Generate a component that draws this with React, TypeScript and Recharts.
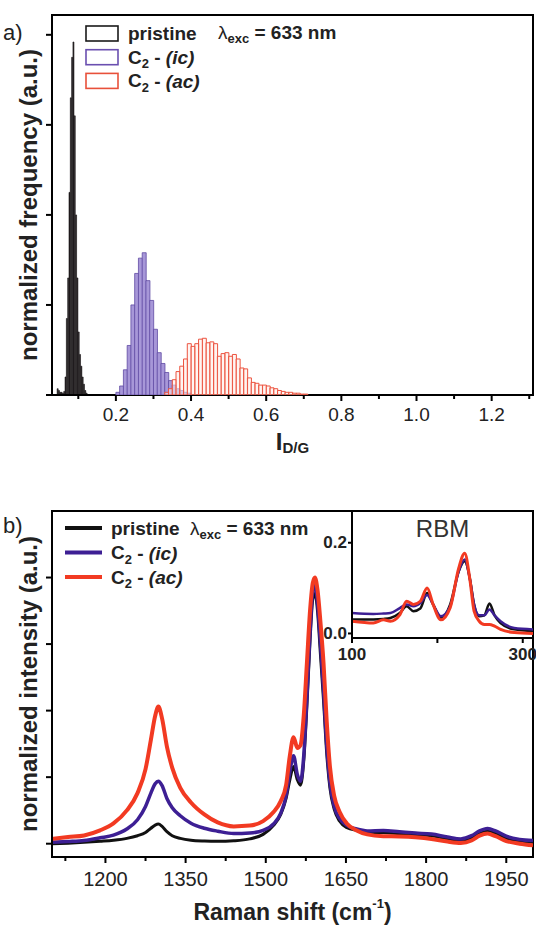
import React from 'react';
import { BarChart, Bar, LineChart, Line, XAxis, YAxis, ReferenceArea, Legend } from 'recharts';

const FONT = '"Liberation Sans", Arial, Helvetica, sans-serif';
const INK = '#222';

// ---- a) I_D/G histograms (bin centre, normalized frequency)
const PRISTINE_BIN = [0.0455, 0.049, 0.0525, 0.056, 0.0595, 0.063, 0.0665, 0.07, 0.0735, 0.077, 0.0805, 0.084, 0.0875, 0.091, 0.0945, 0.098, 0.1015, 0.105, 0.1085, 0.112, 0.1155, 0.119, 0.1225];
const PRISTINE_FREQ = [0.07, 0.05, 0.03, 0.03, 0.02, 0.04, 0.2, 0.85, 1.3, 2.25, 3.3, 3.75, 3.92, 3.1, 2.0, 1.3, 0.7, 0.45, 0.32, 0.2, 0.12, 0.05, 0.02];
const IC_BIN = [0.205, 0.215, 0.225, 0.235, 0.245, 0.255, 0.265, 0.275, 0.285, 0.295, 0.305, 0.315, 0.325, 0.335, 0.345, 0.355, 0.365, 0.375, 0.385, 0.395];
const IC_FREQ = [0.03, 0.1, 0.28, 0.55, 1.0, 1.35, 1.52, 1.58, 1.27, 1.05, 0.73, 0.47, 0.35, 0.25, 0.16, 0.11, 0.07, 0.05, 0.03, 0.02];
const AC_BIN = [0.335, 0.345, 0.355, 0.365, 0.375, 0.385, 0.395, 0.405, 0.415, 0.425, 0.435, 0.445, 0.455, 0.465, 0.475, 0.485, 0.495, 0.505, 0.515, 0.525, 0.535, 0.545, 0.555, 0.565, 0.575, 0.585, 0.595, 0.605, 0.615, 0.625, 0.635, 0.645, 0.655, 0.665, 0.675, 0.685, 0.695, 0.705];
const AC_FREQ = [0.03, 0.07, 0.17, 0.26, 0.32, 0.4, 0.57, 0.54, 0.57, 0.62, 0.63, 0.58, 0.59, 0.57, 0.43, 0.46, 0.47, 0.43, 0.45, 0.4, 0.3, 0.29, 0.19, 0.14, 0.13, 0.11, 0.11, 0.1, 0.08, 0.07, 0.05, 0.04, 0.03, 0.03, 0.02, 0.02, 0.01, 0.01];
const A_MAJOR = [0.2, 0.4, 0.6, 0.8, 1.0, 1.2];
const A_MINOR = [0.1, 0.3, 0.5, 0.7, 0.9, 1.1, 1.3];
const A_YTICKS = [0, 1, 2, 3, 4];
const A_XDOM: [number, number] = [0.03, 1.31];
const A_YDOM: [number, number] = [0, 4.22];

// ---- b) Raman spectra, normalized to the G band
const SHIFT = [1100, 1130, 1160, 1190, 1215, 1240, 1260, 1275, 1285, 1293, 1299, 1306, 1315, 1325, 1340, 1360, 1385, 1410, 1440, 1470, 1495, 1515, 1528, 1538, 1545, 1552, 1559, 1565, 1571, 1577, 1583, 1588, 1592, 1597, 1602, 1608, 1614, 1620, 1628, 1638, 1652, 1670, 1690, 1720, 1750, 1780, 1810, 1840, 1865, 1885, 1900, 1915, 1930, 1950, 1975, 2000];
const PRISTINE_INT = [0.0, 0.002, 0.005, 0.009, 0.013, 0.02, 0.03, 0.042, 0.058, 0.07, 0.074, 0.065, 0.045, 0.03, 0.02, 0.013, 0.01, 0.009, 0.011, 0.018, 0.035, 0.07, 0.11, 0.17, 0.24, 0.29, 0.24, 0.22, 0.31, 0.52, 0.77, 0.92, 0.94, 0.87, 0.72, 0.54, 0.34, 0.21, 0.13, 0.085, 0.06, 0.05, 0.043, 0.042, 0.038, 0.034, 0.03, 0.018, 0.012, 0.022, 0.038, 0.047, 0.038, 0.02, 0.01, 0.005];
const IC_INT = [0.005, 0.008, 0.012, 0.022, 0.032, 0.055, 0.09, 0.14, 0.19, 0.225, 0.235, 0.218, 0.17, 0.135, 0.105, 0.077, 0.058, 0.047, 0.038, 0.04, 0.05, 0.075, 0.115, 0.18, 0.27, 0.33, 0.26, 0.235, 0.33, 0.55, 0.8, 0.95, 0.97, 0.9, 0.76, 0.58, 0.37, 0.23, 0.14, 0.095, 0.068, 0.055, 0.048, 0.05, 0.045, 0.04, 0.036, 0.025, 0.018, 0.03, 0.048, 0.057, 0.048, 0.028, 0.016, 0.012];
const AC_INT = [0.018, 0.025, 0.031, 0.05, 0.076, 0.125, 0.19, 0.28, 0.39, 0.48, 0.515, 0.47, 0.365, 0.285, 0.21, 0.155, 0.11, 0.08, 0.065, 0.068, 0.085, 0.12, 0.16, 0.22, 0.33, 0.4, 0.36, 0.37, 0.48, 0.68, 0.88, 0.98, 1.0, 0.95, 0.84, 0.68, 0.46, 0.29, 0.18, 0.12, 0.075, 0.05, 0.035, 0.028, 0.027, 0.024, 0.018, 0.008, 0.003, 0.012, 0.03, 0.038, 0.028, 0.01, 0.0, -0.006];
const B_MAJOR = [1200, 1350, 1500, 1650, 1800, 1950];
const B_MINOR = [1125, 1275, 1425, 1575, 1725, 1875];
const B_YTICKS = [0, 0.25, 0.5, 0.75, 1];
const B_XDOM: [number, number] = [1100, 2000];
const B_YDOM: [number, number] = [-0.05, 1.25];

// ---- inset: RBM region
const RBM_SHIFT = [100, 125, 137, 145, 156, 164, 172, 180, 188, 195, 204, 215, 225, 232, 238, 243, 249, 255, 261, 267, 274, 290, 312];
const RBM_PRISTINE = [0.031, 0.031, 0.032, 0.034, 0.045, 0.06, 0.049, 0.055, 0.089, 0.064, 0.034, 0.064, 0.137, 0.159, 0.122, 0.064, 0.038, 0.04, 0.066, 0.04, 0.023, 0.009, 0.005];
const RBM_IC = [0.045, 0.043, 0.044, 0.045, 0.056, 0.064, 0.06, 0.067, 0.085, 0.064, 0.038, 0.06, 0.137, 0.163, 0.12, 0.064, 0.04, 0.04, 0.053, 0.04, 0.027, 0.012, 0.009];
const RBM_AC = [0.027, 0.023, 0.03, 0.027, 0.041, 0.071, 0.064, 0.071, 0.1, 0.064, 0.03, 0.057, 0.144, 0.177, 0.12, 0.049, 0.027, 0.02, 0.02, 0.016, 0.009, 0.002, 0.0];
const R_XTICKS = [100, 200, 300];
const R_XLABELS = [100, 300];
const R_YTICKS = [0, 0.2];
const R_XDOM: [number, number] = [100, 312];
const R_YDOM: [number, number] = [-0.01, 0.27];

const C_BLACK = '#111111';
const C_PURPLE = '#3d1f94';
const C_RED = '#f23a22';

const pristineRows = PRISTINE_BIN.map((x, i) => ({ x, n: PRISTINE_FREQ[i] }));
const icRows = IC_BIN.map((x, i) => ({ x, n: IC_FREQ[i] }));
const acRows = AC_BIN.map((x, i) => ({ x, n: AC_FREQ[i] }));
const ramanRows = SHIFT.map((s, i) => ({ s, pristine: PRISTINE_INT[i], ic: IC_INT[i], ac: AC_INT[i] }));
const rbmRows = RBM_SHIFT.map((s, i) => ({ s, pristine: RBM_PRISTINE[i], ic: RBM_IC[i], ac: RBM_AC[i] }));

const sortNum = (a: number[]) => [...a].sort((p, q) => p - q);

function xTick(labelled: number[], fmt: (v: number) => string, size: number, bold = false, majorLen = 6, minorLen = 4, gap = 14) {
  return (props: any) => {
    const { x, y, payload } = props;
    const major = labelled.includes(payload.value);
    return (
      <g>
        <line x1={x} x2={x} y1={y} y2={y + (major ? majorLen : minorLen)} stroke="#000" strokeWidth={2} />
        {major && (
          <text x={x} y={y + majorLen + gap} textAnchor="middle" dominantBaseline="central" fontSize={size} fontWeight={bold ? 'bold' : 'normal'} fill={INK} fontFamily={FONT}>
            {fmt(payload.value)}
          </text>
        )}
      </g>
    );
  };
}

function yTick(fmt: ((v: number) => string) | null, size = 17, len = 6) {
  return (props: any) => {
    const { x, y, payload } = props;
    return (
      <g>
        <line x1={x - len} x2={x} y1={y} y2={y} stroke="#000" strokeWidth={2} />
        {fmt && (
          <text x={x - len - 1} y={y} textAnchor="end" dominantBaseline="central" fontSize={size} fontWeight="bold" fill={INK} fontFamily={FONT}>
            {fmt(payload.value)}
          </text>
        )}
      </g>
    );
  };
}

const yTitle = (text: string) => (props: any) => {
  const vb = props.viewBox;
  const cx = vb.x + 28;
  const cy = vb.y + vb.height / 2;
  return (
    <text x={cx} y={cy} transform={`rotate(-90 ${cx} ${cy})`} textAnchor="middle" dominantBaseline="central" fontSize={24} fontWeight="bold" fill={INK} fontFamily={FONT}>
      {text}
    </text>
  );
};

const idgTitle = (props: any) => {
  const vb = props.viewBox;
  return (
    <text x={vb.x + vb.width / 2} y={vb.y + 46} textAnchor="middle" dominantBaseline="central" fontSize={24} fontWeight="bold" fill={INK} fontFamily={FONT}>
      I<tspan fontSize={15} dy={6}>D/G</tspan>
    </text>
  );
};

const ramanTitle = (props: any) => {
  const vb = props.viewBox;
  return (
    <text x={vb.x + vb.width / 2} y={vb.y + 55} textAnchor="middle" dominantBaseline="central" fontSize={23} fontWeight="bold" fill={INK} fontFamily={FONT}>
      Raman shift (cm<tspan fontSize={13} dy={-9}>-1</tspan><tspan dy={9}>)</tspan>
    </text>
  );
};

const C2 = ({ tag }: { tag: string }) => (
  <>
    C<tspan fontSize={13} dy={6}>2</tspan>
    <tspan dy={-6}> - </tspan>
    <tspan fontStyle="italic">({tag})</tspan>
  </>
);

const Lambda = ({ x, y }: { x: number; y: number }) => (
  <text x={x} y={y} dominantBaseline="central" fontSize={19} fontWeight="bold" fill={INK} fontFamily={FONT}>
    <tspan fontWeight="normal">λ</tspan>
    <tspan fontSize={13} dy={6}>exc</tspan>
    <tspan dy={-6}> = 633 nm</tspan>
  </text>
);

const HIST_KEYS = [
  { label: 'pristine', stroke: '#1a1a1a', tag: '' },
  { label: 'ic', stroke: '#6a4fb0', tag: 'ic' },
  { label: 'ac', stroke: '#e8503a', tag: 'ac' },
];

const TopLegend = () => (
  <svg width={300} height={80}>
    {HIST_KEYS.map((k, i) => (
      <g key={k.label}>
        <rect x={2} y={4 + i * 23.7} width={32} height={15} fill="#fff" stroke={k.stroke} strokeWidth={1.6} />
        <text x={44} y={11.5 + i * 23.7} dominantBaseline="central" fontSize={19} fontWeight="bold" fill={INK} fontFamily={FONT}>
          {k.tag ? <C2 tag={k.tag} /> : 'pristine'}
        </text>
      </g>
    ))}
    <Lambda x={134} y={10} />
  </svg>
);

const LINE_KEYS = [
  { label: 'pristine', stroke: C_BLACK, tag: '' },
  { label: 'ic', stroke: C_PURPLE, tag: 'ic' },
  { label: 'ac', stroke: C_RED, tag: 'ac' },
];

const BottomLegend = () => (
  <svg width={300} height={80}>
    {LINE_KEYS.map((k, i) => (
      <g key={k.label}>
        <line x1={3} x2={40} y1={12 + i * 24.5} y2={12 + i * 24.5} stroke={k.stroke} strokeWidth={4} />
        <text x={49} y={12 + i * 24.5} dominantBaseline="central" fontSize={19} fontWeight="bold" fill={INK} fontFamily={FONT}>
          {k.tag ? <C2 tag={k.tag} /> : 'pristine'}
        </text>
      </g>
    ))}
    <Lambda x={128} y={12} />
  </svg>
);

const axisLine = { stroke: '#000', strokeWidth: 2 };
const panelLabel = (text: string, top: number) => (
  <div style={{ position: 'absolute', left: 3, top, fontFamily: FONT, fontSize: 22, color: INK, lineHeight: 1 }}>{text}</div>
);

function HistOverlay({ rows, fill, stroke, strokeWidth }: { rows: { x: number; n: number }[]; fill: string; stroke: string; strokeWidth: number }) {
  return (
    <div style={{ position: 'absolute', left: 0, top: 0, pointerEvents: 'none' }}>
      <BarChart width={536} height={460} data={rows} margin={{ top: 15, right: 3, left: 52, bottom: 65 }} barCategoryGap={0} barGap={0}>
        <XAxis dataKey="x" type="number" domain={A_XDOM} allowDataOverflow hide />
        <YAxis type="number" domain={A_YDOM} allowDataOverflow hide />
        <Bar dataKey="n" fill={fill} stroke={stroke} strokeWidth={strokeWidth} isAnimationActive={false} />
      </BarChart>
    </div>
  );
}

export default function App() {
  return (
    <div style={{ position: 'absolute', left: 0, top: 0, width: 536, height: 931, background: '#fff', fontFamily: FONT }}>
      {/* a) histogram */}
      <div style={{ position: 'absolute', left: 0, top: 0 }}>
        <BarChart width={536} height={460} data={pristineRows} margin={{ top: 15, right: 3, left: 0, bottom: 0 }} barCategoryGap={0} barGap={0}>
          <XAxis
            dataKey="x"
            type="number"
            domain={A_XDOM}
            allowDataOverflow
            ticks={sortNum([...A_MAJOR, ...A_MINOR])}
            interval={0}
            height={65}
            tickSize={0}
            tickMargin={0}
            tickLine={false}
            axisLine={axisLine}
            tick={xTick(A_MAJOR, (v) => v.toFixed(1), 19, false, 6, 4, 13)}
            label={idgTitle}
          />
          <YAxis
            type="number"
            domain={A_YDOM}
            allowDataOverflow
            ticks={A_YTICKS}
            interval={0}
            width={52}
            tickSize={0}
            tickMargin={0}
            tickLine={false}
            axisLine={axisLine}
            tick={yTick(null)}
            label={yTitle('normalized frequency (a.u.)')}
          />
          <ReferenceArea x1={A_XDOM[0]} x2={A_XDOM[1]} y1={A_YDOM[0]} y2={A_YDOM[1]} fill="none" stroke="#000" strokeWidth={2} ifOverflow="visible" />
          <Bar dataKey="n" fill="#2b2527" stroke="#141012" strokeWidth={0.6} isAnimationActive={false} />
          <Legend layout="vertical" align="center" verticalAlign="middle" wrapperStyle={{ left: 84, top: 22, width: 300, height: 80 }} content={TopLegend} />
        </BarChart>
      </div>
      <HistOverlay rows={icRows} fill="#a797d8" stroke="#5f4aa3" strokeWidth={0.8} />
      <HistOverlay rows={acRows} fill="rgba(255,236,232,0.55)" stroke="#ec5440" strokeWidth={1} />
      {panelLabel('a)', 22)}

      {/* b) Raman spectra */}
      <div style={{ position: 'absolute', left: 0, top: 460 }}>
        <LineChart width={536} height={471} data={ramanRows} margin={{ top: 51, right: 3, left: 0, bottom: 0 }}>
          <XAxis
            dataKey="s"
            type="number"
            domain={B_XDOM}
            allowDataOverflow
            ticks={sortNum([...B_MAJOR, ...B_MINOR])}
            interval={0}
            height={74}
            tickSize={0}
            tickMargin={0}
            tickLine={false}
            axisLine={axisLine}
            tick={xTick(B_MAJOR, (v) => String(v), 20, false, 6, 4, 16)}
            label={ramanTitle}
          />
          <YAxis
            type="number"
            domain={B_YDOM}
            allowDataOverflow
            ticks={B_YTICKS}
            interval={0}
            width={52}
            tickSize={0}
            tickMargin={0}
            tickLine={false}
            axisLine={axisLine}
            tick={yTick(null)}
            label={yTitle('normalized intensity (a.u.)')}
          />
          <ReferenceArea x1={B_XDOM[0]} x2={B_XDOM[1]} y1={B_YDOM[0]} y2={B_YDOM[1]} fill="none" stroke="#000" strokeWidth={2} ifOverflow="visible" />
          <Line dataKey="pristine" type="monotone" stroke={C_BLACK} strokeWidth={3} dot={false} isAnimationActive={false} />
          <Line dataKey="ic" type="monotone" stroke={C_PURPLE} strokeWidth={3.5} dot={false} isAnimationActive={false} />
          <Line dataKey="ac" type="monotone" stroke={C_RED} strokeWidth={4} dot={false} isAnimationActive={false} />
          <Legend layout="vertical" align="center" verticalAlign="middle" wrapperStyle={{ left: 62, top: 56, width: 300, height: 80 }} content={BottomLegend} />
        </LineChart>
      </div>

      {/* inset: RBM */}
      <div style={{ position: 'absolute', left: 300, top: 505 }}>
        <LineChart width={236} height={170} data={rbmRows} margin={{ top: 6, right: 3, left: 0, bottom: 0 }}>
          <XAxis
            dataKey="s"
            type="number"
            domain={R_XDOM}
            allowDataOverflow
            ticks={R_XTICKS}
            interval={0}
            height={37}
            tickSize={0}
            tickMargin={0}
            tickLine={false}
            axisLine={axisLine}
            tick={xTick(R_XLABELS, (v) => String(v), 17, true, 5, 5, 11)}
          />
          <YAxis
            type="number"
            domain={R_YDOM}
            allowDataOverflow
            ticks={R_YTICKS}
            interval={0}
            width={52}
            tickSize={0}
            tickMargin={0}
            tickLine={false}
            axisLine={axisLine}
            tick={yTick((v) => v.toFixed(1), 17, 4)}
          />
          <ReferenceArea
            x1={R_XDOM[0]}
            x2={R_XDOM[1]}
            y1={R_YDOM[0]}
            y2={R_YDOM[1]}
            fill="none"
            stroke="#000"
            strokeWidth={2}
            ifOverflow="visible"
            label={{ value: 'RBM', position: 'insideTop', offset: 9, fontSize: 24, fill: '#333', fontFamily: FONT }}
          />
          <Line dataKey="pristine" type="monotone" stroke={C_BLACK} strokeWidth={2.5} dot={false} isAnimationActive={false} />
          <Line dataKey="ic" type="monotone" stroke={C_PURPLE} strokeWidth={2.5} dot={false} isAnimationActive={false} />
          <Line dataKey="ac" type="monotone" stroke={C_RED} strokeWidth={3} dot={false} isAnimationActive={false} />
        </LineChart>
      </div>
      {panelLabel('b)', 515)}
    </div>
  );
}
